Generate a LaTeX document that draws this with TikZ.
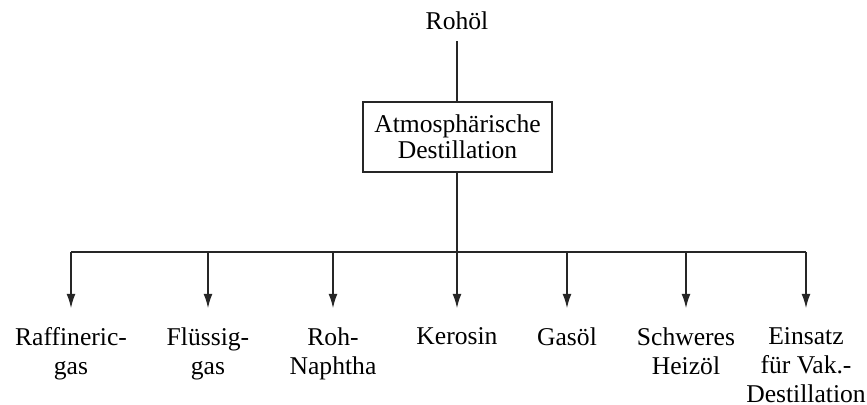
\documentclass[tikz,border=0pt]{standalone}
\usepackage{fontspec}
\setmainfont{Liberation Serif}
\usetikzlibrary{arrows.meta}
\usetikzlibrary{positioning}

\begin{document}
\begin{tikzpicture}[x=0.5pt,y=-0.5pt]
\tikzstyle{block} = [rectangle, draw=black!85, line width=0.6pt, minimum width=94.5pt, minimum height=35pt, inner sep=0pt, align=center, font=\fontsize{12.8}{13}\selectfont]
\tikzstyle{product} = [anchor=north, inner sep=0pt, align=center, font=\fontsize{12.8}{14.5}\selectfont]
\tikzstyle{line} = [draw=black!85, line width=0.6pt]
\tikzstyle{feed} = [line, -{Latex[length=7pt,width=4.4pt]}, shorten >=9.5pt]
\useasboundingbox (0,0) rectangle (867,405);
% input and column
\node [anchor=base, font=\fontsize{12.8}{13}\selectfont] (crude) at (457,30) {Rohöl};
\node [block] (atm) at (457.5,137) {Atmosphärische\\Destillation};
% products
\node [product] (refgas) at (71,327) {Raffineric-\\gas};
\node [product] (lpg) at (208,327) {Flüssig-\\gas};
\node [product] (naphtha) at (333,327) {Roh-\\Naphtha};
\node [product] (kero) at (457,327) {Kerosin};
\node [product] (gasoil) at (567,327) {Gasöl};
\node [product] (heavy) at (686,327) {Schweres\\Heizöl};
\node [product] (vac) at (806,327) {Einsatz\\für Vak.-\\Destillation};
% distribution line
\coordinate (b1) at (71,252);
\coordinate (b2) at (208,252);
\coordinate (b3) at (333,252);
\coordinate (b4) at (457,252);
\coordinate (b5) at (567,252);
\coordinate (b6) at (686,252);
\coordinate (b7) at (806,252);
\draw [line, shorten <=2pt] (crude.south) -- (crude.south |- atm.north);
\draw [line] (crude.south |- atm.south) -- (b4);
\draw [line] (b1) -- (b7);
\draw [feed] (b1) -- (refgas.north);
\draw [feed] (b2) -- (lpg.north);
\draw [feed] (b3) -- (naphtha.north);
\draw [feed] (b4) -- (kero.north);
\draw [feed] (b5) -- (gasoil.north);
\draw [feed] (b6) -- (heavy.north);
\draw [feed] (b7) -- (vac.north);
\end{tikzpicture}
\end{document}
